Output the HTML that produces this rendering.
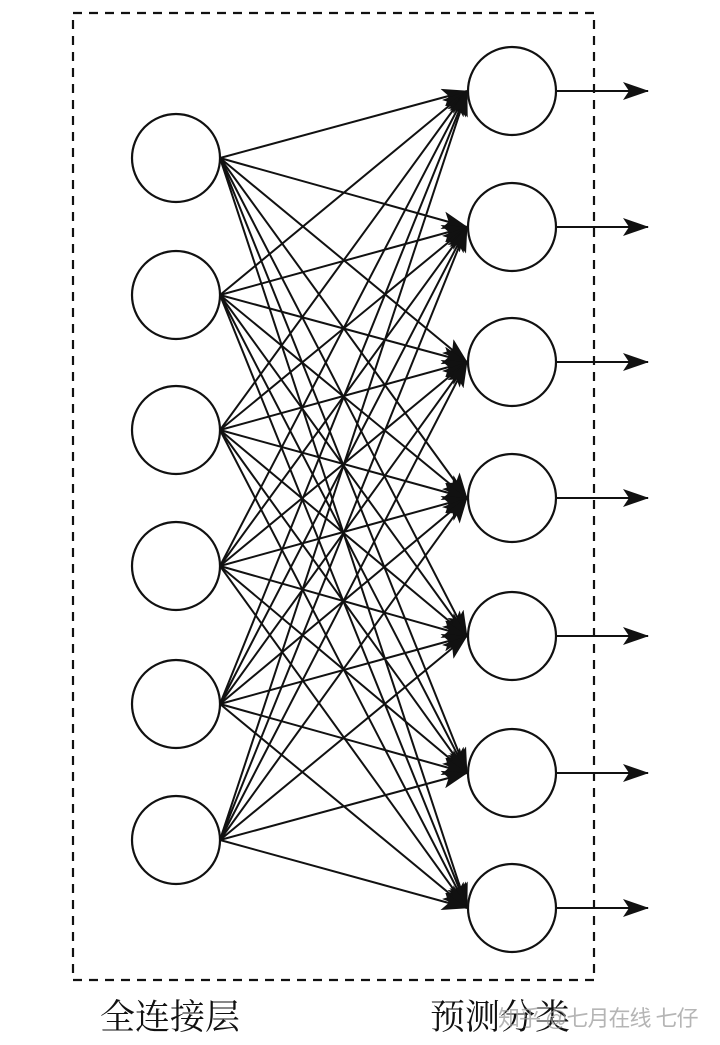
<!DOCTYPE html>
<html><head><meta charset="utf-8">
<style>
html,body{margin:0;padding:0;background:#fff;}
body{width:720px;height:1045px;position:relative;overflow:hidden;}
svg{position:absolute;left:0;top:0;}
.t{position:absolute;font-family:"Liberation Serif","Noto Serif CJK SC",serif;font-size:35px;color:#111;top:998px;line-height:40px;white-space:nowrap;}
.w{position:absolute;font-family:"Liberation Sans","Noto Sans CJK SC",sans-serif;font-size:22px;color:rgba(150,150,150,0.7);top:1004px;left:498px;line-height:30px;white-space:nowrap;letter-spacing:-1px;}
</style></head><body>
<svg id="s" width="720" height="1045" viewBox="0 0 720 1045">
<defs>
<marker id="a" markerWidth="26" markerHeight="18" refX="25" refY="9" orient="auto" markerUnits="userSpaceOnUse">
<path d="M0,0 L26,9 L0,18 L6,9 Z" fill="#111"/>
</marker>
</defs>
<rect x="73" y="13" width="521" height="967" fill="none" stroke="#111" stroke-width="2.2" stroke-dasharray="9,7"/>
<g id="g"></g>
</svg>
<div class="t" style="left:100px">全连接层</div>
<div class="t" style="left:430px">预测分类</div>
<div class="w">知乎 @七月在线 七仔</div>
<script>
var g=document.getElementById('g'),ns='http://www.w3.org/2000/svg';
var L=[158,295,430,566,704,840],R=[91,227,362,498,636,773,908],lx=176,rx=512,r=44;
function el(n,a){var e=document.createElementNS(ns,n);for(var k in a)e.setAttribute(k,a[k]);g.appendChild(e);return e;}
L.forEach(function(ly){R.forEach(function(ry){
el('line',{x1:lx+r,y1:ly,x2:rx-r-1,y2:ry,stroke:'#111','stroke-width':2,'marker-end':'url(#a)'});
});});
R.forEach(function(ry){
el('line',{x1:rx+r,y1:ry,x2:648,y2:ry,stroke:'#111','stroke-width':2,'marker-end':'url(#a)'});
});
L.forEach(function(y){el('circle',{cx:lx,cy:y,r:r,fill:'#fff',stroke:'#111','stroke-width':2.2});});
R.forEach(function(y){el('circle',{cx:rx,cy:y,r:r,fill:'#fff',stroke:'#111','stroke-width':2.2});});
</script>
</body></html>
